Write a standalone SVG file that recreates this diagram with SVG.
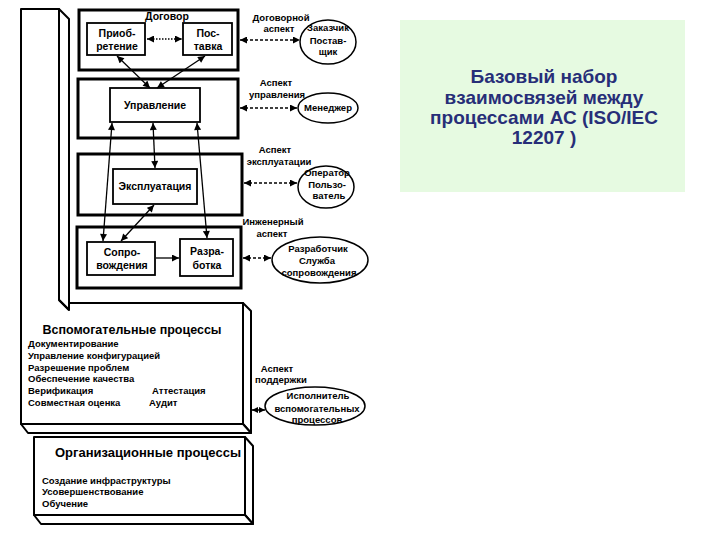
<svg xmlns="http://www.w3.org/2000/svg" width="720" height="540" viewBox="0 0 720 540">
<defs>
<marker id="ah" viewBox="0 0 10 10" refX="10" refY="5" markerWidth="8" markerHeight="7" markerUnits="userSpaceOnUse" orient="auto-start-reverse">
<path d="M0,0 L10,5 L0,10 z" fill="#000"/>
</marker>
<marker id="ahs" viewBox="0 0 10 10" refX="10" refY="5" markerWidth="6" markerHeight="6" markerUnits="userSpaceOnUse" orient="auto-start-reverse">
<path d="M0,0 L10,5 L0,10 z" fill="#000"/>
</marker>
<style>
.frame{fill:#fff;stroke:#000;stroke-width:3}
.box{fill:#fff;stroke:#000;stroke-width:1.8}
.ell{fill:#fff;stroke:#000;stroke-width:1.5}
.solid3d{fill:#fff;stroke:#000;stroke-width:2;stroke-linejoin:round}
.l3d{fill:none;stroke:#000;stroke-width:2}
.t{font-family:"Liberation Sans",Arial,sans-serif;font-weight:bold;fill:#000}
.lb{font-size:10.5px;text-anchor:middle}
.sm{font-size:9.5px;text-anchor:middle}
.ls{font-size:9.5px}
.ln{stroke:#000;stroke-width:1.3;fill:none}
.da{stroke-dasharray:3 2}
.dt{stroke-dasharray:1.5 1.5}
.ttl{font-family:"Liberation Sans",Arial,sans-serif;font-weight:bold;font-size:19px;fill:#272e78;text-anchor:middle}
</style>
</defs>

<rect x="0" y="0" width="720" height="540" fill="#fff"/>

<!-- Title panel -->
<g id="title-panel">
<rect x="400" y="20" width="285" height="172" fill="#e6fae1"/>
<text class="ttl" x="544" y="83">Базовый набор</text>
<text class="ttl" x="544" y="104">взаимосвязей между</text>
<text class="ttl" x="544" y="124">процессами АС (ISO/IEC</text>
<text class="ttl" x="544" y="144">12207 )</text>
</g>

<!-- Supporting processes 3D block with left bar -->
<g id="support-processes">
<polygon class="solid3d" points="243,303 251,311 251,433 243,424"/>
<polygon class="solid3d" points="21,424 243,424 251,433 28,433"/>
<polygon class="solid3d" points="59,9 69,19 69,310 59,300"/>
<path class="solid3d" d="M21,9 H59 V300 L69,310 V303 H243 V424 H21 Z"/>
<path class="l3d" d="M59,300 L69,310"/>
<text class="t" x="132" y="334" font-size="12.5" text-anchor="middle">Вспомогательные процессы</text>
<text class="t ls" x="28" y="347">Документирование</text>
<text class="t ls" x="28" y="359">Управление конфигурацией</text>
<text class="t ls" x="28" y="371">Разрешение проблем</text>
<text class="t ls" x="28" y="382">Обеспечение качества</text>
<text class="t ls" x="28" y="394">Верификация</text>
<text class="t ls" x="152" y="394">Аттестация</text>
<text class="t ls" x="28" y="406">Совместная оценка</text>
<text class="t ls" x="149" y="406">Аудит</text>
</g>

<!-- Organizational processes 3D block -->
<g id="org-processes">
<polygon class="solid3d" points="245,437 253,446 253,524 245,515"/>
<polygon class="solid3d" points="34,515 245,515 253,524 41,524"/>
<rect class="solid3d" x="34" y="437" width="211" height="78"/>
<text class="t" x="148" y="457" font-size="13" text-anchor="middle">Организационные процессы</text>
<text class="t ls" x="42" y="484">Создание инфраструктуры</text>
<text class="t ls" x="42" y="495">Усовершенствование</text>
<text class="t ls" x="42" y="507">Обучение</text>
</g>

<!-- Frames -->
<g id="frame-contract">
<rect class="frame" x="79" y="10" width="159" height="60"/>
<text class="t lb" x="167" y="20" font-size="10">Договор</text>
</g>
<g id="frame-management"><rect class="frame" x="78" y="79" width="160" height="59"/></g>
<g id="frame-operation"><rect class="frame" x="78" y="154" width="164" height="61"/></g>
<g id="frame-engineering"><rect class="frame" x="77" y="227" width="164" height="61"/></g>

<!-- Inner nodes -->
<g id="node-acquisition">
<rect class="box" x="87" y="23" width="58" height="32"/>
<text class="t lb" x="117" y="37">Приоб-</text>
<text class="t lb" x="117" y="50">ретение</text>
</g>
<g id="node-supply">
<rect class="box" x="183" y="23" width="49" height="32"/>
<text class="t lb" x="208" y="37">Пос-</text>
<text class="t lb" x="208" y="50">тавка</text>
</g>
<g id="node-management">
<rect class="box" x="110" y="88" width="90" height="34"/>
<text class="t lb" x="155" y="109">Управление</text>
</g>
<g id="node-operation">
<rect class="box" x="113" y="169" width="84" height="35"/>
<text class="t lb" x="155" y="190">Эксплуатация</text>
</g>
<g id="node-maintenance">
<rect class="box" x="87" y="242" width="68" height="33"/>
<text class="t lb" x="122" y="256">Сопро-</text>
<text class="t lb" x="122" y="269">вождения</text>
</g>
<g id="node-development">
<rect class="box" x="180" y="239" width="53" height="37"/>
<text class="t lb" x="207" y="255">Разра-</text>
<text class="t lb" x="207" y="269">ботка</text>
</g>

<!-- Aspect labels -->
<g id="label-contract-aspect">
<text class="t sm" x="281" y="21" font-size="10">Договорной</text>
<text class="t sm" x="279" y="32">аспект</text>
</g>
<g id="label-management-aspect">
<text class="t sm" x="276" y="86">Аспект</text>
<text class="t sm" x="277" y="98">управления</text>
</g>
<g id="label-operation-aspect">
<text class="t sm" x="275" y="153">Аспект</text>
<text class="t sm" x="279" y="165">эксплуатации</text>
</g>
<g id="label-engineering-aspect">
<text class="t sm" x="273" y="225">Инженерный</text>
<text class="t sm" x="272" y="237">аспект</text>
</g>
<g id="label-support-aspect">
<text class="t sm" x="277" y="372">Аспект</text>
<text class="t sm" x="281" y="383">поддержки</text>
</g>

<!-- Actor ellipses -->
<g id="actor-customer">
<ellipse class="ell" cx="328" cy="42" rx="28" ry="22"/>
<text class="t sm" x="328" y="31">Заказчик</text>
<text class="t sm" x="328" y="44">Постав-</text>
<text class="t sm" x="328" y="55">щик</text>
</g>
<g id="actor-manager">
<ellipse class="ell" cx="328" cy="108" rx="30" ry="15"/>
<text class="t sm" x="328" y="111">Менеджер</text>
</g>
<g id="actor-operator">
<ellipse class="ell" cx="326" cy="187" rx="28" ry="21"/>
<text class="t sm" x="327" y="176">Оператор</text>
<text class="t sm" x="327" y="188">Пользо-</text>
<text class="t sm" x="329" y="199">ватель</text>
</g>
<g id="actor-developer">
<ellipse class="ell" cx="320" cy="260" rx="48" ry="23"/>
<text class="t sm" x="318" y="252">Разработчик</text>
<text class="t sm" x="317" y="264">Служба</text>
<text class="t sm" x="319" y="276">сопровождения</text>
</g>
<g id="actor-support">
<ellipse class="ell" cx="315" cy="406" rx="50" ry="19"/>
<text class="t sm" x="318" y="399">Исполнитель</text>
<text class="t sm" x="317" y="412">вспомогательных</text>
<text class="t sm" x="317" y="423">процессов</text>
</g>

<!-- Connectors -->
<g id="connectors">
<line class="ln dt" x1="147" y1="39" x2="182" y2="39" marker-start="url(#ah)" marker-end="url(#ah)"/>
<line class="ln" x1="117" y1="56" x2="150" y2="88" marker-start="url(#ah)" marker-end="url(#ah)"/>
<line class="ln" x1="205" y1="56" x2="157" y2="88" marker-start="url(#ah)" marker-end="url(#ah)"/>
<line class="ln" x1="112" y1="123" x2="103" y2="241" marker-start="url(#ah)" marker-end="url(#ah)"/>
<line class="ln" x1="153" y1="123" x2="155" y2="168" marker-start="url(#ah)" marker-end="url(#ah)"/>
<line class="ln" x1="197" y1="123" x2="207" y2="238" marker-start="url(#ah)" marker-end="url(#ah)"/>
<line class="ln" x1="154" y1="205" x2="121" y2="241" marker-start="url(#ah)" marker-end="url(#ah)"/>
<line class="ln" x1="156" y1="258" x2="179" y2="258" marker-end="url(#ah)"/>
<line class="ln da" x1="240" y1="40" x2="300" y2="40" marker-start="url(#ah)" marker-end="url(#ah)"/>
<line class="ln da" x1="240" y1="108" x2="297" y2="108" marker-start="url(#ah)" marker-end="url(#ah)"/>
<line class="ln da" x1="244" y1="183" x2="297" y2="183" marker-start="url(#ah)" marker-end="url(#ah)"/>
<line class="ln da" x1="243" y1="258" x2="271" y2="258" marker-start="url(#ah)" marker-end="url(#ah)"/>
<line class="ln da" x1="252" y1="410" x2="265" y2="410" marker-start="url(#ahs)" marker-end="url(#ahs)"/>
</g>
</svg>
